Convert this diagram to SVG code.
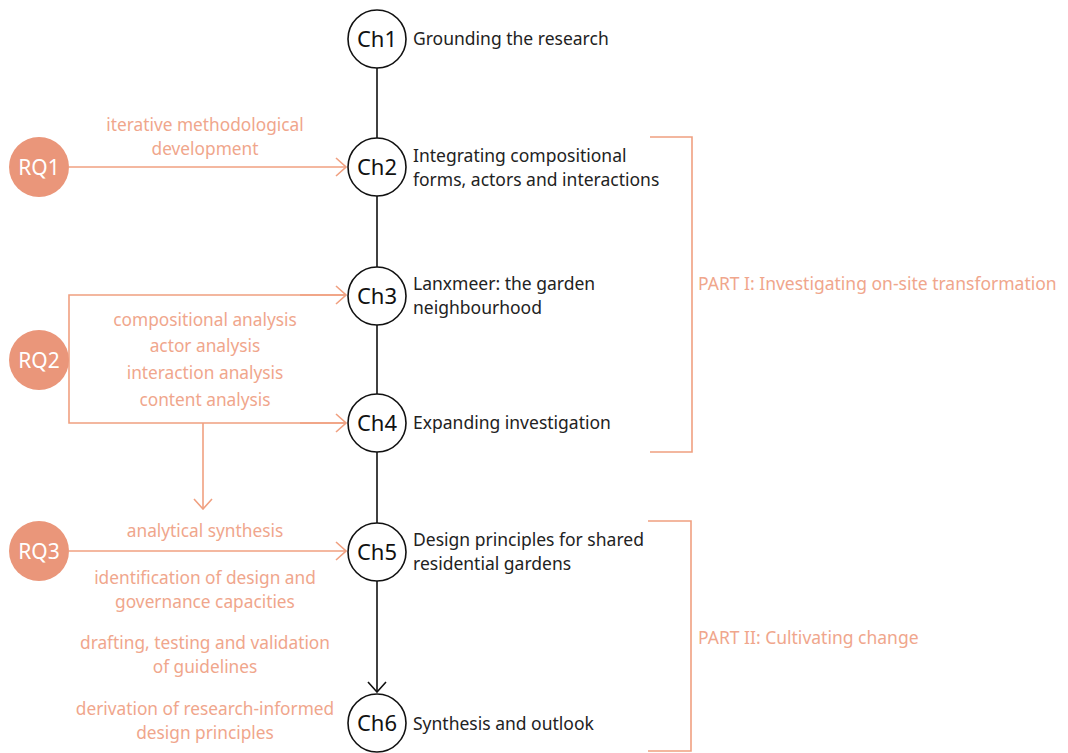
<svg xmlns="http://www.w3.org/2000/svg" width="1068" height="753" viewBox="0 0 1068 753">
<defs>
<style>
.ch{fill:#fff;stroke:#111;stroke-width:1.6}
.chl{font-family:"Noto Sans","Liberation Sans",sans-serif;font-size:22px;fill:#111;text-anchor:middle}
.t{font-family:"Noto Sans","Liberation Sans",sans-serif;font-size:17.5px;fill:#222}
.rq{fill:#EA967A}
.rql{font-family:"Noto Sans","Liberation Sans",sans-serif;font-size:21px;fill:#fff;text-anchor:middle}
.l{font-family:"Noto Sans","Liberation Sans",sans-serif;font-size:17.3px;fill:#F0A68C;text-anchor:middle}
.p{font-family:"Noto Sans","Liberation Sans",sans-serif;font-size:17.5px;fill:#F0A68C}
.ol{fill:none;stroke:#F0A080;stroke-width:1.6}
.bl{fill:none;stroke:#111;stroke-width:1.6}
</style>
<marker id="ao" viewBox="0 0 12 20" refX="11" refY="10" markerWidth="12" markerHeight="20" markerUnits="userSpaceOnUse" orient="auto"><path d="M1,1 L11,10 L1,19" fill="none" stroke="#F0A080" stroke-width="1.6"/></marker>
<marker id="ab" viewBox="0 0 12 20" refX="11" refY="10" markerWidth="12" markerHeight="20" markerUnits="userSpaceOnUse" orient="auto"><path d="M1,1 L11,10 L1,19" fill="none" stroke="#111" stroke-width="1.6"/></marker>
</defs>
<rect width="1068" height="753" fill="#fff"/>
<g id="connectors">
<line class="bl" x1="377" y1="68" x2="377" y2="138"/>
<line class="bl" x1="377" y1="196" x2="377" y2="267"/>
<line class="bl" x1="377" y1="325" x2="377" y2="394"/>
<line class="bl" x1="377" y1="452" x2="377" y2="523"/>
<line class="bl" x1="377" y1="581" x2="377" y2="692" marker-end="url(#ab)"/>
<line class="ol" x1="69" y1="167" x2="346" y2="167" marker-end="url(#ao)"/>
<polyline class="ol" points="346,295 69,295 69,423 346,423" />
<line class="ol" x1="300" y1="295" x2="346" y2="295" marker-end="url(#ao)"/>
<line class="ol" x1="300" y1="423" x2="346" y2="423" marker-end="url(#ao)"/>
<line class="ol" x1="203" y1="423" x2="203" y2="509" marker-end="url(#ao)"/>
<line class="ol" x1="69" y1="551" x2="346" y2="551" marker-end="url(#ao)"/>
<polyline class="ol" points="650,137 692,137 692,452 650,452"/>
<polyline class="ol" points="648,521 691,521 691,751 648,751"/>
</g>
<g id="ch1"><circle class="ch" cx="377" cy="39" r="29"/><text class="chl" x="377" y="47">Ch1</text><text class="t" x="413" y="45">Grounding the research</text></g>
<g id="ch2"><circle class="ch" cx="377" cy="167" r="29"/><text class="chl" x="377" y="175">Ch2</text><text class="t" x="413" y="162">Integrating compositional</text><text class="t" x="413" y="186">forms, actors and interactions</text></g>
<g id="ch3"><circle class="ch" cx="377" cy="296" r="29"/><text class="chl" x="377" y="304">Ch3</text><text class="t" x="413" y="290">Lanxmeer: the garden</text><text class="t" x="413" y="314">neighbourhood</text></g>
<g id="ch4"><circle class="ch" cx="377" cy="423" r="29"/><text class="chl" x="377" y="431">Ch4</text><text class="t" x="413" y="429">Expanding investigation</text></g>
<g id="ch5"><circle class="ch" cx="377" cy="552" r="29"/><text class="chl" x="377" y="560">Ch5</text><text class="t" x="413" y="546">Design principles for shared</text><text class="t" x="413" y="570">residential gardens</text></g>
<g id="ch6"><circle class="ch" cx="377" cy="723" r="29"/><text class="chl" x="377" y="731">Ch6</text><text class="t" x="413" y="730">Synthesis and outlook</text></g>
<g id="rq1"><circle class="rq" cx="39" cy="167" r="30"/><text class="rql" x="39" y="175">RQ1</text></g>
<g id="rq2"><circle class="rq" cx="39" cy="360" r="30"/><text class="rql" x="39" y="368">RQ2</text></g>
<g id="rq3"><circle class="rq" cx="39" cy="551" r="30"/><text class="rql" x="39" y="559">RQ3</text></g>
<g id="labels">
<text class="l" x="205" y="131">iterative methodological</text>
<text class="l" x="205" y="155">development</text>
<text class="l" x="205" y="326">compositional analysis</text>
<text class="l" x="205" y="352">actor analysis</text>
<text class="l" x="205" y="379">interaction analysis</text>
<text class="l" x="205" y="406">content analysis</text>
<text class="l" x="205" y="537">analytical synthesis</text>
<text class="l" x="205" y="584">identification of design and</text>
<text class="l" x="205" y="608">governance capacities</text>
<text class="l" x="205" y="649">drafting, testing and validation</text>
<text class="l" x="205" y="673">of guidelines</text>
<text class="l" x="205" y="715">derivation of research-informed</text>
<text class="l" x="205" y="739">design principles</text>
</g>
<g id="part1"><text class="p" x="698" y="290">PART I: Investigating on-site transformation</text></g>
<g id="part2"><text class="p" x="698" y="644">PART II: Cultivating change</text></g>
</svg>
